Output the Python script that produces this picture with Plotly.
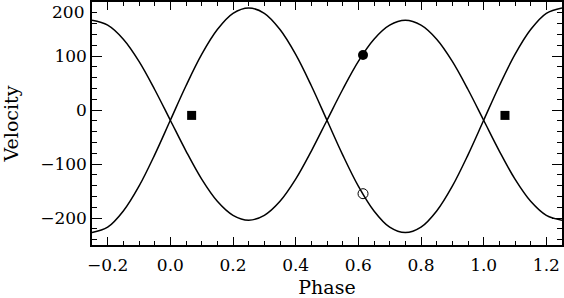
import plotly.graph_objects as go

# model curves, every 0.05 in phase
phase = [-0.25, -0.20, -0.15, -0.10, -0.05, 0.00, 0.05, 0.10, 0.15, 0.20, 0.25,
         0.30, 0.35, 0.40, 0.45, 0.50, 0.55, 0.60, 0.65, 0.70, 0.75,
         0.80, 0.85, 0.90, 0.95, 1.00, 1.05, 1.10, 1.15, 1.20, 1.25]
vel_a = [166, 157, 131, 90, 38, -19, -76, -128, -169, -195, -204,
         -195, -169, -128, -76, -19, 38, 90, 131, 157, 166,
         157, 131, 90, 38, -19, -76, -128, -169, -195, -204]
vel_b = [-227, -217, -187, -141, -83, -19, 45, 103, 149, 179, 189,
         179, 149, 103, 45, -19, -83, -141, -187, -217, -227,
         -217, -187, -141, -83, -19, 45, 103, 149, 179, 189]

# observed points
obs_phase = [0.615]
obs_a = [102]
obs_b = [-155]
sq_phase = [0.068, 1.068]
sq_vel = [-10, -10]

yticks = [-200, -100, 0, 100, 200]
ylabels = ["\u2212200", "\u2212100", "0", "100", ""]  # top label drawn below as annotation

font = dict(family="DejaVu Serif", size=17, color="black")
tfont = dict(family="DejaVu Serif", size=19, color="black")

fig = go.Figure()
for v in (vel_a, vel_b):
    fig.add_trace(go.Scatter(x=phase, y=v, mode="lines", line_shape="spline",
                             line=dict(color="black", width=1.5)))
fig.add_trace(go.Scatter(x=obs_phase, y=obs_a, mode="markers",
                         marker=dict(symbol="circle", size=10, color="black")))
fig.add_trace(go.Scatter(x=obs_phase, y=obs_b, mode="markers",
                         marker=dict(symbol="circle-open", size=10, color="black",
                                     line=dict(width=1))))
fig.add_trace(go.Scatter(x=sq_phase, y=sq_vel, mode="markers",
                         marker=dict(symbol="square", size=9, color="black")))

axis = dict(showgrid=False, zeroline=False, showline=True, linecolor="black",
            linewidth=1.5, mirror="allticks", ticks="inside", tickcolor="black",
            tickwidth=1.2, tickfont=font, automargin=False)
fig.update_xaxes(axis, range=[-0.25, 1.25], tickvals=[-0.2, 0, 0.2, 0.4, 0.6, 0.8, 1.0, 1.2],
                 tickformat=".1f", ticklen=8, ticklabeloverflow="allow", ticklabelstandoff=4,
                 minor=dict(ticks="inside", dtick=0.05, ticklen=4, tickcolor="black", tickwidth=1.2),
                 title=dict(text="Phase", font=tfont, standoff=10))
fig.update_yaxes(axis, range=[-250, 200], tickvals=yticks, ticktext=ylabels, ticklen=10,
                 minor=dict(ticks="inside", dtick=20, ticklen=5, tickcolor="black", tickwidth=1.2),
                 title=dict(text="Velocity", font=tfont, standoff=16))
fig.add_annotation(x=0, xref="paper", xanchor="right", xshift=-6,
                   y=1, yref="paper", yanchor="top", yshift=2,
                   text=str(yticks[-1]), showarrow=False, font=font)
fig.update_layout(width=564, height=298, showlegend=False,
                  margin=dict(l=92, r=2, t=2, b=53),
                  paper_bgcolor="white", plot_bgcolor="white")
fig.write_html("out.html", config={"displayModeBar": False},
               post_script="document.body.style.margin='0';")
